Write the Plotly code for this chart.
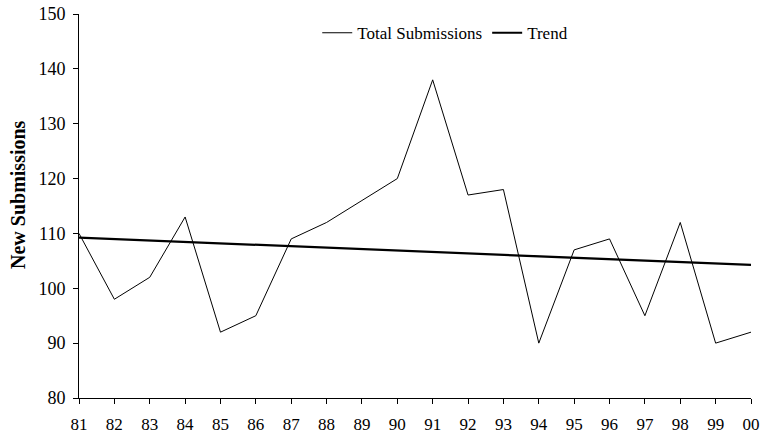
import numpy as np
import plotly.graph_objects as go

years = ["81", "82", "83", "84", "85", "86", "87", "88", "89", "90",
         "91", "92", "93", "94", "95", "96", "97", "98", "99", "00"]
total_submissions = [110, 98, 102, 113, 92, 95, 109, 112, 116, 120,
                     138, 117, 118, 90, 107, 109, 95, 112, 90, 92]

x = np.arange(len(years))
slope, intercept = np.polyfit(x, total_submissions, 1)
trend = slope * x + intercept

font_family = "Liberation Serif"

fig = go.Figure()
fig.add_trace(go.Scatter(x=x, y=total_submissions, mode="lines", name="Total Submissions",
                         line=dict(color="black", width=1)))
fig.add_trace(go.Scatter(x=x, y=trend, mode="lines", name="Trend",
                         line=dict(color="black", width=2.2)))

fig.update_layout(
    width=762, height=438,
    margin=dict(l=79, r=11, t=14, b=40),
    paper_bgcolor="white", plot_bgcolor="white",
    font=dict(family=font_family, size=18, color="black"),
    showlegend=True,
    legend=dict(orientation="h", x=0.545, xanchor="center", y=0.95, yanchor="middle",
                font=dict(size=17), bgcolor="rgba(0,0,0,0)", itemwidth=30,
                tracegroupgap=0),
    xaxis=dict(range=[0, len(years) - 1], tickvals=list(x), ticktext=years,
               showgrid=False, zeroline=False, showline=True, linecolor="black", linewidth=1,
               ticks="outside", ticklen=5, tickcolor="black", tickwidth=1,
               tickfont=dict(size=17), automargin=False, ticklabelstandoff=6),
    yaxis=dict(range=[80, 150], dtick=10, showgrid=False, zeroline=False,
               showline=True, linecolor="black", linewidth=1,
               ticks="outside", ticklen=5, tickcolor="black", tickwidth=1,
               tickfont=dict(size=18), automargin=False, ticklabelstandoff=4),
    annotations=[dict(text="<b>New Submissions</b>", xref="paper", yref="paper",
                      x=-0.09, xanchor="center", y=0.53, yanchor="middle",
                      textangle=-90, showarrow=False, font=dict(size=20))],
)

fig.write_html("out.html", config={"displayModeBar": False},
               post_script="document.body.style.margin='0';")
